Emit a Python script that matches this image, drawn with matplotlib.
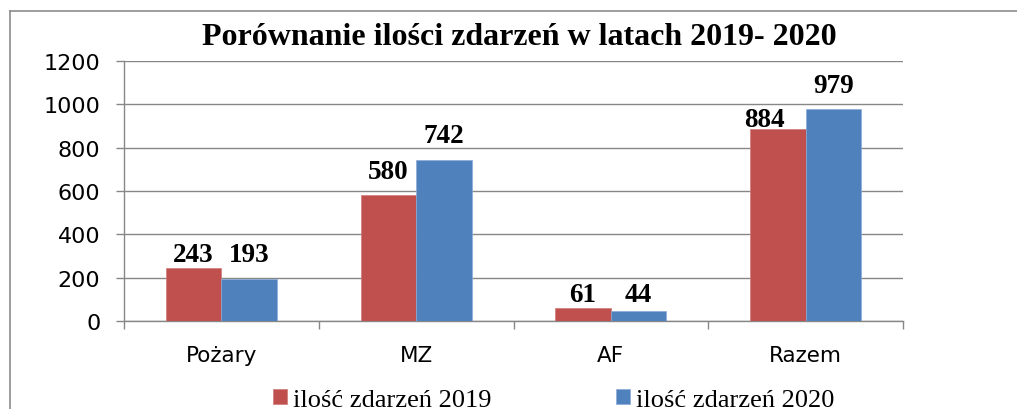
import matplotlib
matplotlib.use("Agg")
import matplotlib.pyplot as plt
from matplotlib.lines import Line2D
import numpy as np

# data
categories = ["Pożary", "MZ", "AF", "Razem"]
events_2019 = [243, 580, 61, 884]
events_2020 = [193, 742, 44, 979]
series_names = ["ilość zdarzeń 2019", "ilość zdarzeń 2020"]
title = "Porównanie ilości zdarzeń w latach 2019- 2020"
y_ticks = [0, 200, 400, 600, 800, 1000, 1200]

red = "#C0504D"
blue = "#4F81BD"
grid_gray = "#878787"
serif = ["Liberation Serif", "DejaVu Serif"]

# label nudges (pixels) - some labels were moved by hand in the original
label_shift = {
    (0, 0): (0, 7), (1, 0): (0, 18),
    (0, 1): (0, 17), (1, 1): (0, 18.5),
    (0, 2): (0, 7), (1, 2): (0, 10),
    (0, 3): (-13, 3.5), (1, 3): (0, 17),
}

W, H = 1017, 410
fig = plt.figure(figsize=(W / 100, H / 100), dpi=100)

# outer chart frame: only top and left edges are visible in the crop
top_y = 1 - 12 / H
left_x = 9.5 / W
fig.add_artist(Line2D([left_x, 1.0], [top_y, top_y], transform=fig.transFigure,
                      color="#8C8C8C", linewidth=1.2))
fig.add_artist(Line2D([left_x, left_x], [0.0, top_y], transform=fig.transFigure,
                      color="#8C8C8C", linewidth=1.2))

ax = fig.add_axes([124 / W, 1 - 322 / H, (903 - 124) / W, (322 - 62) / H])

x = np.arange(len(categories))
bw = 0.285
bars1 = ax.bar(x - bw / 2, events_2019, bw, color=red, label=series_names[0],
               edgecolor="#CF7B78", linewidth=0.5, zorder=3)
bars2 = ax.bar(x + bw / 2, events_2020, bw, color=blue, label=series_names[1],
               edgecolor="#8AAAD6", linewidth=0.5, zorder=3)

for s, bars in enumerate([bars1, bars2]):
    for i, b in enumerate(bars):
        dx, dy = label_shift[(s, i)]
        ax.annotate(str(int(b.get_height())),
                    xy=(b.get_x() + b.get_width() / 2, b.get_height()),
                    xytext=(dx, dy), textcoords="offset pixels",
                    ha="center", va="baseline", fontsize=19.5,
                    fontweight="bold", family=serif, zorder=4)

ax.set_xlim(-0.5, len(categories) - 0.5)
ax.set_ylim(0, 1200)
ax.set_yticks(y_ticks)
ax.set_yticklabels([str(t) for t in y_ticks])
ax.yaxis.grid(True, color=grid_gray, linewidth=1.0)
ax.set_axisbelow(True)

ax.set_xticks(x)
ax.set_xticklabels(categories)
ax.set_xticks(np.arange(len(categories) + 1) - 0.5, minor=True)
ax.tick_params(axis="x", which="major", length=0, pad=17, labelsize=15.5)
ax.tick_params(axis="x", which="minor", length=6, width=1.0, color=grid_gray)
ax.tick_params(axis="y", length=6, width=1.0, color=grid_gray, pad=11,
               labelsize=16)

for side in ["top", "right"]:
    ax.spines[side].set_visible(False)
for side in ["left", "bottom"]:
    ax.spines[side].set_color(grid_gray)
    ax.spines[side].set_linewidth(1.0)

fig.text(519 / W, 1 - 45 / H, title, ha="center", va="baseline",
         fontsize=23, fontweight="bold", family=serif)

fig.legend(handles=[bars1, bars2], loc="center left",
           bbox_to_anchor=(273 / W, 1 - 401 / H), ncol=2, frameon=False,
           prop={"family": serif, "size": 19}, handlelength=0.52,
           handleheight=0.52, handletextpad=0.25, columnspacing=4.7,
           borderpad=0, borderaxespad=0)

fig.savefig("out.png", dpi=100)
